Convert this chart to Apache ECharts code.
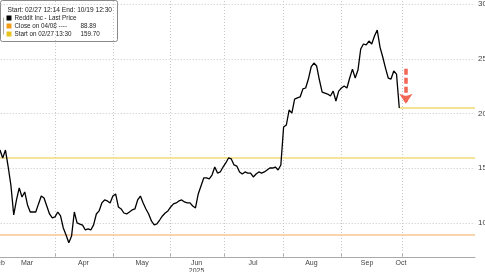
<!DOCTYPE html>
<html><head><meta charset="utf-8">
<script src="https://cdn.jsdelivr.net/npm/echarts@6/dist/echarts.min.js"></script>
<style>html,body{margin:0;padding:0;background:#fff}#c{width:485px;height:272px}</style>
</head><body><div id="c"></div>
<script>
// Reddit Inc - Last Price, one value per trading day starting 02/27
const prices = [160,164,162,166.6,159.4,166.6,151.1,133.8,107.3,121,132,123.7,128.3,116.5,110,110,110,117.4,124.6,122.8,
115.5,108.2,104.6,105.5,110,106.4,95.4,89,82,88,110,100,99,98,93.6,94.5,93.6,98.2,108.2,111,
118.3,121,120.1,118.3,124.6,126.5,114.6,112.8,109.1,108.2,110,111.9,112.8,121,124.6,118.3,112.8,108.2,101.8,98.2,
99.1,102.7,106.4,109.1,111,114.6,117.4,118.3,120.1,121,119.2,118.3,118.3,115.5,113.7,126.5,133.8,141.1,141.1,140.2,
143.8,151.1,145.6,146.6,151.1,154.8,159.4,158.5,153,152,146.6,144.7,146.6,145.6,145.6,142,144.7,146.6,145.6,146.6,
148.4,150.2,150.2,151.1,148.4,153,187.6,189.5,203.2,200.4,213.2,214.2,215.1,222.4,223.3,231.5,242.5,246.1,243.4,230.6,
219.6,218.7,217.8,216,220.5,211.4,220.5,223.3,225.1,223.3,232.4,240.6,232.4,239.7,258.9,263.5,262.6,266.2,263.5,270.8,
276.3,260.7,251.6,241.5,232.4,231.5,238.8,236,205];
const monthLabels = ['Feb','Mar','Apr','May','Jun\n2025','Jul','Aug','Sep','Oct'];
const monthLabelPos = [2.6,12.8,33.3,54.6,74.4,94.9,116.1,136.3,148.6];
const monthStarts = [23,44,65,84.5,106,127,149];
const yTicks = [100,150,200,250,300];
const yMinorTicks = [75,100,125,150,175,200,225,250,275,300];
const closeLevel = 88.89;   // Close on 04/08
const startLevel = 159.70;  // Start on 02/27
const lastLevel = 205;
const arrowFrom = 241, arrowTo = 209, arrowX = 150.4;
const xMax = 175.5, yMin = 68.9, yMax = 303.7;

const chart = echarts.init(document.getElementById('c'), null, {renderer:'canvas'});
const labelMap = {};
monthLabelPos.forEach((p,i)=>{labelMap[p.toFixed(1)] = monthLabels[i];});
const gridStyle = {color:'#c8c8c8', type:[1,2], width:1};
const gridLines = [];
monthStarts.forEach(v=>gridLines.push({xAxis:v, lineStyle:gridStyle}));
yTicks.forEach(v=>gridLines.push({yAxis:v, lineStyle:gridStyle}));

chart.setOption({
  animation:false,
  grid:{left:-8.3, right:10, top:0, bottom:15, containLabel:false, outerBoundsMode:'none'},
  xAxis:{type:'value', min:0, max:xMax,
    axisLine:{lineStyle:{color:'#aaaaaa', width:1}},
    splitLine:{show:false},
    axisTick:{show:true, inside:true, length:3, customValues:monthStarts, lineStyle:{color:'#aaaaaa'}},
    axisLabel:{customValues:monthLabelPos, fontSize:7, color:'#444', margin:2, lineHeight:8,
      fontFamily:'Liberation Sans', hideOverlap:false, showMinLabel:true, showMaxLabel:true,
      formatter:v=>labelMap[Number(v).toFixed(1)]||''}
  },
  yAxis:{type:'value', position:'right', min:yMin, max:yMax,
    axisLine:{show:true, lineStyle:{color:'#bbbbbb', width:2}},
    splitLine:{show:false},
    axisTick:{show:true, length:3, customValues:yMinorTicks, lineStyle:{color:'#666'}},
    axisLabel:{customValues:yTicks, fontSize:8, color:'#444', margin:3, fontFamily:'Liberation Sans'}
  },
  series:[
    {type:'line', data:[], silent:true, z:1,
      markLine:{silent:true, symbol:'none', label:{show:false}, animation:false, data:gridLines}},
    {type:'line', data:[], silent:true, z:2,
      markLine:{silent:true, symbol:'none', label:{show:false}, animation:false, data:[
        {yAxis:startLevel, lineStyle:{color:'#f2dc78', type:'solid', width:1.5}},
        {yAxis:closeLevel, lineStyle:{color:'#f8c690', type:'solid', width:1.5}},
        [{coord:[prices.length-1,lastLevel]},{coord:[xMax,lastLevel], lineStyle:{color:'#f0da70', type:'solid', width:1.5}}]
      ]}},
    {type:'line', z:5, data:prices.map((v,i)=>[i,v]), showSymbol:false, symbol:'none',
      lineStyle:{color:'#000', width:1.3}, clip:true,
      markLine:{silent:true, symbol:['none','arrow'], symbolSize:[10,10], label:{show:false}, animation:false,
        data:[[{coord:[arrowX,arrowFrom]},{coord:[arrowX,arrowTo]}]],
        lineStyle:{color:'#f26655', type:[6,3], width:3.5}}}
  ],
  graphic:[{type:'group', left:0, top:0, z:100, children:[
    {type:'rect', shape:{x:-2,y:-2,width:117,height:41,r:2}, style:{fill:'#fff', stroke:'#8a8a8a', lineWidth:1}},
    {type:'text', x:5, y:4, style:{text:'Start: 02/27 12:14 End: 10/19 12:30', font:'6.6px "Liberation Sans"', fill:'#222'}},
    {type:'rect', shape:{x:4,y:13,width:5,height:5}, style:{fill:'#000'}},
    {type:'text', x:12, y:12.5, style:{text:'Reddit Inc - Last Price', font:'6.3px "Liberation Sans"', fill:'#222'}},
    {type:'rect', shape:{x:4,y:21,width:5,height:5}, style:{fill:'#f39a16'}},
    {type:'text', x:12, y:20.5, style:{text:'Close on 04/08 ----', font:'6.3px "Liberation Sans"', fill:'#222'}},
    {type:'text', x:78, y:20.5, style:{text:'88.89', font:'6.3px "Liberation Sans"', fill:'#222'}},
    {type:'rect', shape:{x:4,y:29,width:5,height:5}, style:{fill:'#e6c41e'}},
    {type:'text', x:12, y:28.5, style:{text:'Start on 02/27 13:30', font:'6.3px "Liberation Sans"', fill:'#222'}},
    {type:'text', x:78, y:28.5, style:{text:'159.70', font:'6.3px "Liberation Sans"', fill:'#222'}},
    {type:'line', shape:{x1:1,y1:15,x2:1,y2:32}, style:{stroke:'#aaa', lineWidth:1}}
  ]}]
});
</script></body></html>
